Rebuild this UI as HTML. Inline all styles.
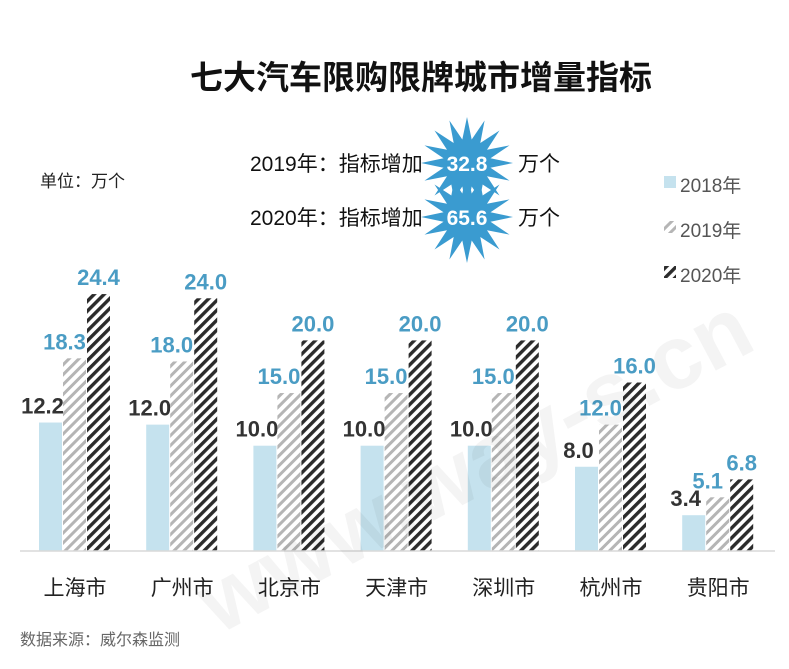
<!DOCTYPE html>
<html><head><meta charset="utf-8"><style>
body{margin:0;background:#fff;}
svg{display:block;font-family:"Liberation Sans","Noto Sans CJK SC",sans-serif;}
</style></head><body>
<svg width="789" height="669" viewBox="0 0 789 669">
<defs>
<pattern id="p19" width="7" height="7" patternUnits="userSpaceOnUse" patternTransform="rotate(45)">
<rect width="7" height="7" fill="#fff"/><rect width="3" height="7" fill="#b5b5b5"/></pattern>
<pattern id="p20" width="7" height="7" patternUnits="userSpaceOnUse" patternTransform="rotate(45)">
<rect width="7" height="7" fill="#fff"/><rect width="3.4" height="7" fill="#2b2b2b"/></pattern>
</defs>
<text x="421" y="89" font-size="33" font-weight="bold" text-anchor="middle" fill="#111">七大汽车限购限牌城市增量指标</text>
<text x="40" y="187" font-size="17" fill="#222">单位：万个</text>
<g id="stars"></g>
<text x="250" y="171" font-size="21" fill="#111">2019年：指标增加</text>
<text x="250" y="225" font-size="21" fill="#111">2020年：指标增加</text>
<text x="518" y="171" font-size="21" fill="#111">万个</text>
<text x="518" y="225" font-size="21" fill="#111">万个</text>
<g id="labs"></g>
<g id="bars"></g>
<line x1="20" y1="551" x2="775" y2="551" stroke="#d9d9d9" stroke-width="1.5"/>
<rect x="664" y="176" width="12" height="12" fill="#c5e2ee"/>
<rect x="664" y="221" width="12" height="12" fill="url(#p19)"/>
<rect x="664" y="266" width="12" height="12" fill="url(#p20)"/>
<text x="680" y="192" font-size="19" fill="#555">2018年</text>
<text x="680" y="237" font-size="19" fill="#555">2019年</text>
<text x="680" y="282" font-size="19" fill="#555">2020年</text>
<text x="20" y="645" font-size="16" fill="#666">数据来源：威尔森监测</text>
<text x="120" y="520" font-size="90" fill="#000" opacity="0.04" transform="rotate(-28 400 380)" font-weight="bold">www.way-s.cn</text>
</svg>
<script>
var ns="http://www.w3.org/2000/svg";
function el(t,a,p,txt){var e=document.createElementNS(ns,t);for(var k in a)e.setAttribute(k,a[k]);if(txt)e.textContent=txt;document.querySelector(p).appendChild(e);return e;}
function star(cx,cy,R,r,n){var s="";for(var i=0;i<2*n;i++){var a=Math.PI*i/n-Math.PI/2;var rr=i%2?r:R;s+=(cx+rr*Math.cos(a)).toFixed(1)+","+(cy+rr*Math.sin(a)).toFixed(1)+" ";}return s;}
el("polygon",{points:star(467,163,46,24,16),fill:"#3a9bd0"},"#stars");
el("polygon",{points:star(467,217,46,24,16),fill:"#3a9bd0"},"#stars");
el("text",{x:467,y:171,"font-size":21,"font-weight":"bold",fill:"#fff","text-anchor":"middle"},"#stars","32.8");
el("text",{x:467,y:225,"font-size":21,"font-weight":"bold",fill:"#fff","text-anchor":"middle"},"#stars","65.6");
var d=[["上海市",12.2,18.3,24.4],["广州市",12.0,18.0,24.0],["北京市",10,15,20],["天津市",10,15,20],["深圳市",10,15,20],["杭州市",8,12,16],["贵阳市",3.4,5.1,6.8]];
var base=551,k=10.53;
d.forEach(function(g,i){var x0=39+i*107.2;
var fills=["#c5e2ee","url(#p19)","url(#p20)"];
for(var j=0;j<3;j++){var h=g[j+1]*k;var x=x0+j*24;
el("rect",{x:x,y:base-h,width:23,height:h,fill:fills[j]},"#bars");
var cx=x+11.5+(j==0?-8:j==1?-10:0);
el("text",{x:cx,y:base-h-9,"font-size":22,"font-weight":"bold",fill:j==0?"#333":"#4a9cc4","text-anchor":"middle"},"#labs",g[j+1].toFixed(1));}
el("text",{x:x0+36,y:595,"font-size":21,fill:"#222","text-anchor":"middle"},"#labs",g[0]);});
</script>
</body></html>
